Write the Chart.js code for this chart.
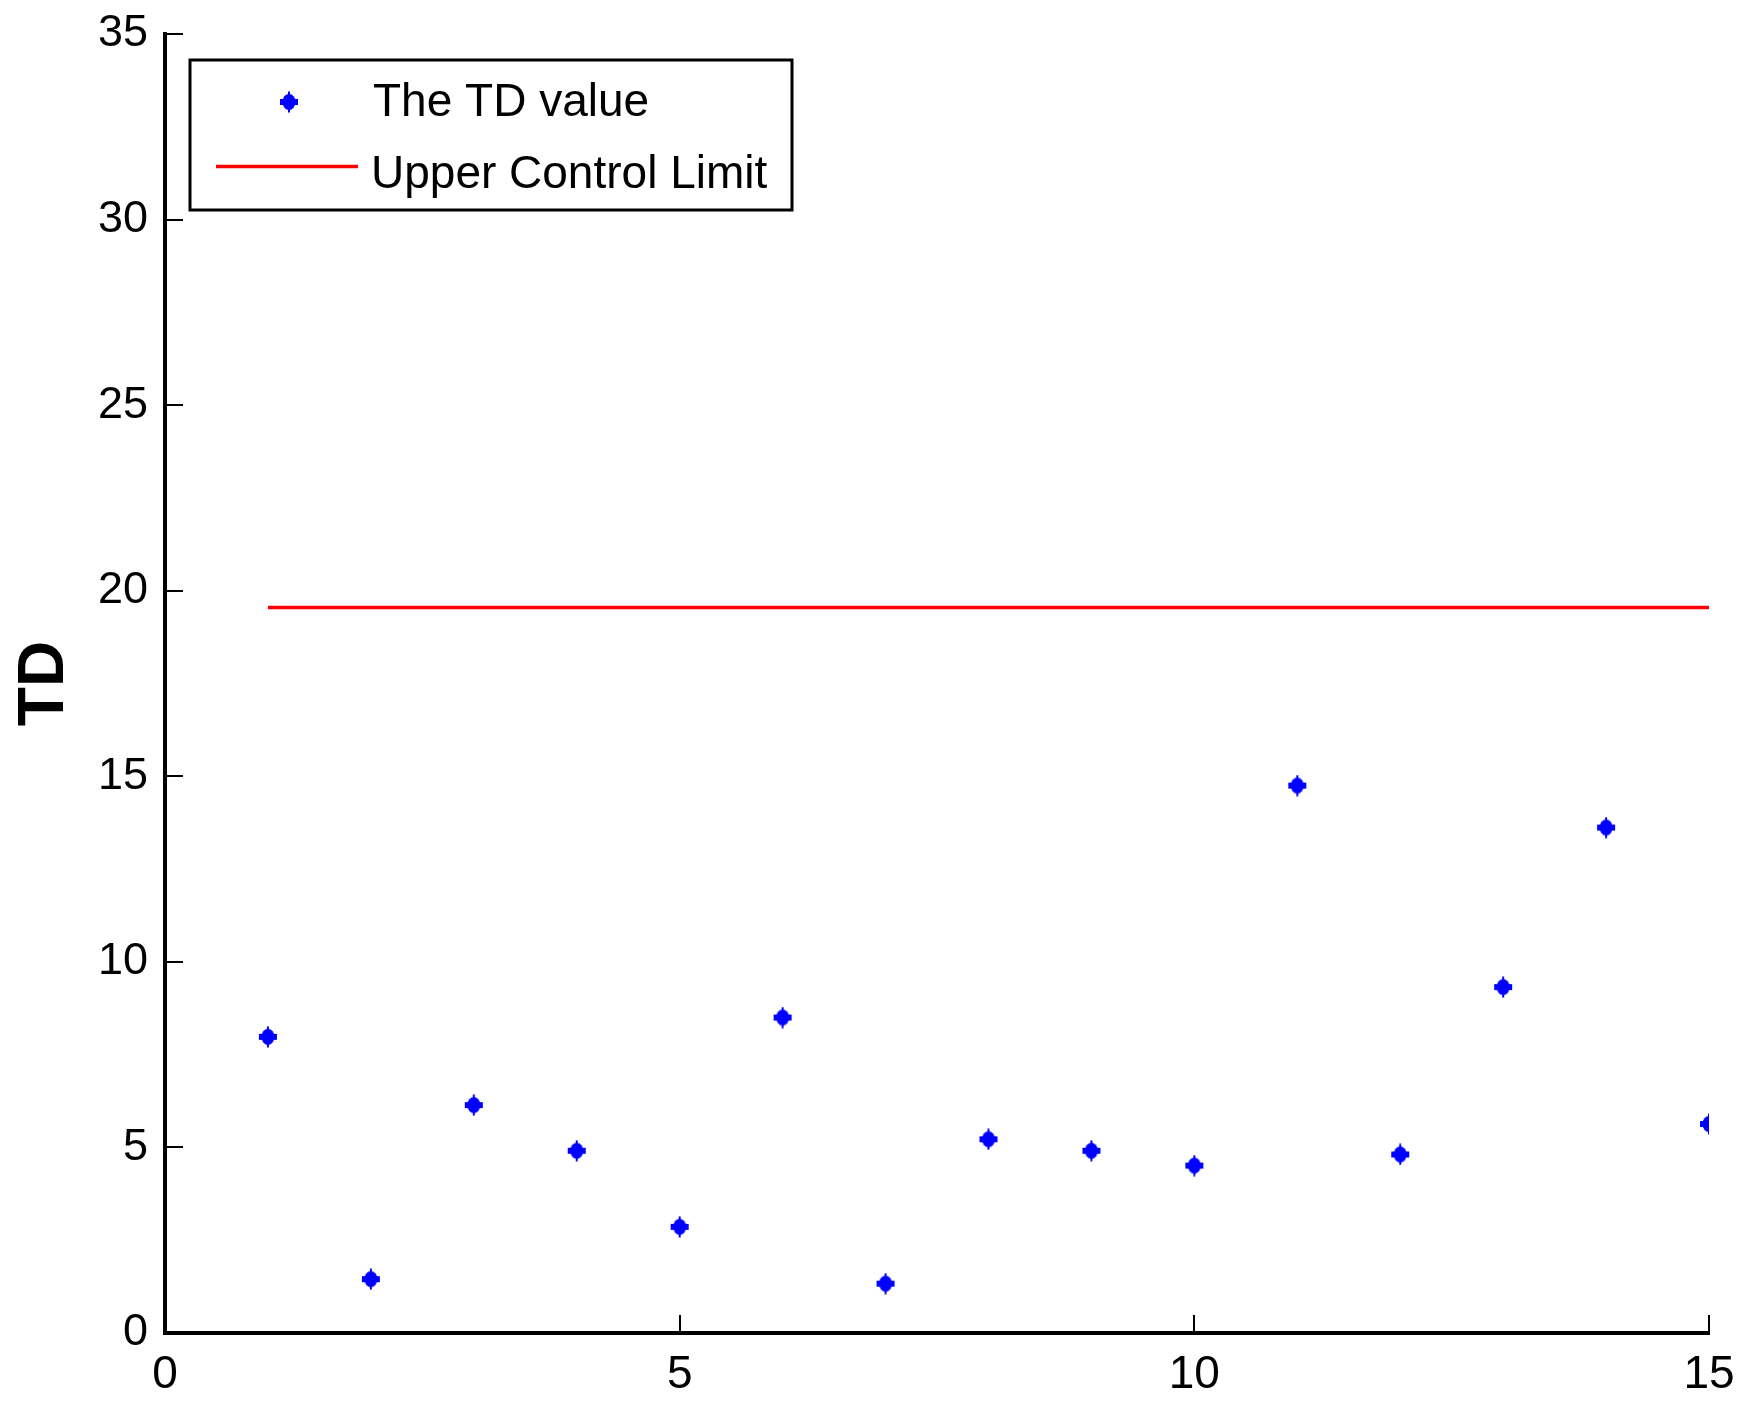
<!DOCTYPE html>
<html>
<head>
<meta charset="utf-8">
<script src="https://cdn.jsdelivr.net/npm/chart.js@4.4.1/dist/chart.umd.min.js"></script>
<style>
  html, body { margin: 0; padding: 0; background: #fff; }
  canvas { display: block; }
</style>
</head>
<body>
<canvas id="tdChart" width="1758" height="1414"></canvas>
<script>
// sample index and TD values
const samples = [1, 2, 3, 4, 5, 6, 7, 8, 9, 10, 11, 12, 13, 14, 15];
const tdValues = [7.98, 1.45, 6.14, 4.91, 2.86, 8.50, 1.33, 5.22, 4.91, 4.51, 14.75, 4.81, 9.32, 13.62, 5.63];
const uclRange = [1, 15];
const uclValue = 19.55;
const xTicks = [0, 5, 10, 15];
const yTicks = [0, 5, 10, 15, 20, 25, 30, 35];

const FONT = "'Liberation Sans', Arial, Helvetica, sans-serif";

// matlab-ish '*' marker, rendered small and blobby
function makeMarker() {
    const c = document.createElement('canvas');
    c.width = 22;
    c.height = 22;
    const g = c.getContext('2d');
    g.fillStyle = '#0000ff';
    g.fillRect(10, 0.5, 2, 21);         // thin vertical spike
    g.fillRect(2, 8, 18, 6);            // horizontal arms
    g.beginPath();
    g.ellipse(11, 11, 6.5, 8, 0, 0, Math.PI * 2);
    g.fill();
    return c;
}
const marker = makeMarker();

const pointData = samples.map((x, i) => ({ x: x, y: tdValues[i] }));
const uclData = uclRange.map(x => ({ x: x, y: uclValue }));

// inward tick marks like the original plot
const inwardTicks = {
    id: 'inwardTicks',
    afterDraw(chart) {
        const ctx = chart.ctx;
        const area = chart.chartArea;
        const xs = chart.scales.x, ys = chart.scales.y;
        ctx.save();
        ctx.strokeStyle = '#000';
        ctx.lineWidth = 2;
        ctx.beginPath();
        xTicks.forEach(v => {
            const px = Math.round(xs.getPixelForValue(v));
            ctx.moveTo(px, area.bottom);
            ctx.lineTo(px, area.bottom - 18);
        });
        yTicks.forEach(v => {
            const py = Math.round(ys.getPixelForValue(v));
            ctx.moveTo(area.left, py);
            ctx.lineTo(area.left + 18, py);
        });
        ctx.stroke();
        ctx.restore();
    }
};

// boxed legend in the upper left corner
const boxLegend = {
    id: 'boxLegend',
    afterDraw(chart) {
        const ctx = chart.ctx;
        const ds = chart.data.datasets;
        ctx.save();
        ctx.strokeStyle = '#000';
        ctx.lineWidth = 3;
        ctx.strokeRect(190, 60, 602, 150);

        ctx.font = '46px ' + FONT;
        ctx.fillStyle = '#000';
        ctx.textBaseline = 'middle';
        ctx.textAlign = 'left';

        ctx.drawImage(marker, 278, 91);
        ctx.fillText(ds[0].label, 373, 103);

        ctx.strokeStyle = ds[1].borderColor;
        ctx.lineWidth = ds[1].borderWidth;
        ctx.beginPath();
        ctx.moveTo(216, 166.5);
        ctx.lineTo(358, 166.5);
        ctx.stroke();
        ctx.fillText(ds[1].label, 371, 175);
        ctx.restore();
    }
};

const ctx = document.getElementById('tdChart').getContext('2d');
const tdChart = new Chart(ctx, {
    type: 'scatter',
    data: {
        datasets: [{
            label: 'The TD value',
            data: pointData,
            pointStyle: marker,
            pointRadius: 11,
            showLine: false
        }, {
            label: 'Upper Control Limit',
            data: uclData,
            showLine: true,
            borderColor: '#ff0000',
            borderWidth: 3.5,
            pointRadius: 0,
            fill: false
        }]
    },
    options: {
        responsive: false,
        animation: false,
        layout: {
            padding: { left: 0, top: 34, right: 49, bottom: 0 }
        },
        plugins: {
            legend: { display: false },
            tooltip: { enabled: false }
        },
        scales: {
            x: {
                type: 'linear',
                min: 0,
                max: 15,
                afterBuildTicks: s => { s.ticks = xTicks.map(v => ({ value: v })); },
                afterFit: s => { s.height = 81; s.paddingLeft = 0; s.paddingRight = 0; },
                ticks: {
                    color: '#000',
                    padding: 15,
                    maxRotation: 0,
                    font: { family: FONT, size: 46 }
                },
                grid: { drawOnChartArea: false, drawTicks: false },
                border: { color: '#000', width: 4 }
            },
            y: {
                min: 0,
                max: 35,
                afterBuildTicks: s => { s.ticks = yTicks.map(v => ({ value: v })); },
                afterFit: s => { s.width = 165; s.paddingTop = 0; s.paddingBottom = 0; },
                ticks: {
                    color: '#000',
                    padding: 17,
                    font: { family: FONT, size: 45 }
                },
                title: {
                    display: true,
                    text: 'TD',
                    color: '#000',
                    padding: { top: 7, bottom: 0 },
                    font: { family: FONT, size: 64, weight: 'bold' }
                },
                grid: { drawOnChartArea: false, drawTicks: false },
                border: { color: '#000', width: 4 }
            }
        }
    },
    plugins: [inwardTicks, boxLegend]
});
</script>
</body>
</html>
